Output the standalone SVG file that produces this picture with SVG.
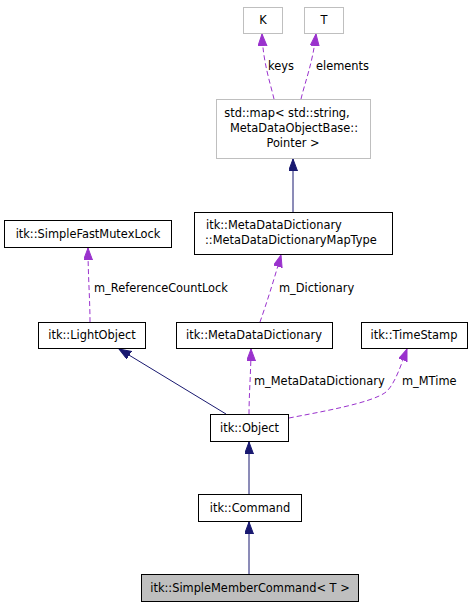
<svg xmlns="http://www.w3.org/2000/svg" width="473" height="608" viewBox="0 0 473 608">
<style>
text{font-family:"DejaVu Sans","Liberation Sans",sans-serif;font-size:11.4px;fill:#000}
.c{text-anchor:middle}
.box{fill:#fff;stroke:#000;stroke-width:1}
.gbox{fill:#fff;stroke:#bfbfbf;stroke-width:1}
.cur{fill:#bfbfbf;stroke:#000;stroke-width:1}
.inh{fill:none;stroke:#191970;stroke-width:1}
.use{fill:none;stroke:#9a32cd;stroke-width:1;stroke-dasharray:5,3}
</style>
<defs>
<marker id="an" markerUnits="userSpaceOnUse" markerWidth="13" markerHeight="11" refX="12" refY="4.5" orient="auto"><path d="M0,0 L12,4.5 L0,9 z" fill="#191970" stroke="#191970"/></marker>
<marker id="ap" markerUnits="userSpaceOnUse" markerWidth="13" markerHeight="11" refX="12" refY="4.5" orient="auto"><path d="M0,0 L12,4.5 L0,9 z" fill="#9a32cd" stroke="#9a32cd"/></marker>
</defs>
<rect width="473" height="608" fill="#fff"/>
<g id="edges">
<path class="use" d="M274,99 C270,82 263,62 262,34" marker-end="url(#ap)"/>
<text x="268" y="70">keys</text>
<path class="use" d="M301,99 C305,82 313,62 316,34" marker-end="url(#ap)"/>
<text x="316" y="70">elements</text>
<path class="inh" d="M293,212 L293,159" marker-end="url(#an)"/>
<path class="use" d="M260,322 C266,305 274,280 281,255" marker-end="url(#ap)"/>
<text x="279" y="292">m_Dictionary</text>
<path class="use" d="M90,322 C90,300 88,275 88,248" marker-end="url(#ap)"/>
<text x="94" y="292">m_ReferenceCountLock</text>
<path class="inh" d="M226,414 L119,349" marker-end="url(#an)"/>
<path class="use" d="M249,414 C249,395 251,370 251,349" marker-end="url(#ap)"/>
<text x="254" y="385">m_MetaDataDictionary</text>
<path class="use" d="M289,418 C320,412 372,403 386,392 C395,384 401,365 407,349" marker-end="url(#ap)"/>
<text x="402" y="385">m_MTime</text>
<path class="inh" d="M249,494 L249,442" marker-end="url(#an)"/>
<path class="inh" d="M249,574 L249,522" marker-end="url(#an)"/>
</g>
<g id="K"><rect class="gbox" x="243.5" y="7.5" width="39" height="26"/><text class="c" x="263" y="24">K</text></g>
<g id="T"><rect class="gbox" x="304.5" y="7.5" width="39" height="26"/><text class="c" x="324" y="24">T</text></g>
<g id="stdmap"><rect class="gbox" x="216.5" y="99.5" width="154" height="59"/>
<text class="c" x="287" y="117">std::map&lt; std::string,</text>
<text class="c" x="294" y="132">MetaDataObjectBase::</text>
<text class="c" x="293" y="147">Pointer &gt;</text></g>
<g id="MapType"><rect class="box" x="194.5" y="212.5" width="198" height="42"/>
<text x="206" y="229">itk::MetaDataDictionary</text>
<text x="205" y="244">::MetaDataDictionaryMapType</text></g>
<g id="SimpleFastMutexLock"><rect class="box" x="4.5" y="220.5" width="167" height="27"/><text class="c" x="88" y="238">itk::SimpleFastMutexLock</text></g>
<g id="LightObject"><rect class="box" x="38.5" y="322.5" width="107" height="26"/><text class="c" x="92" y="339">itk::LightObject</text></g>
<g id="MetaDataDictionary"><rect class="box" x="176.5" y="322.5" width="156" height="26"/><text class="c" x="254" y="339">itk::MetaDataDictionary</text></g>
<g id="TimeStamp"><rect class="box" x="361.5" y="322.5" width="106" height="26"/><text class="c" x="414" y="339">itk::TimeStamp</text></g>
<g id="Object"><rect class="box" x="210.5" y="414.5" width="78" height="27"/><text class="c" x="249.5" y="432">itk::Object</text></g>
<g id="Command"><rect class="box" x="198.5" y="494.5" width="103" height="27"/><text class="c" x="250" y="512">itk::Command</text></g>
<g id="SimpleMemberCommand"><rect class="cur" x="141.5" y="574.5" width="217" height="27"/><text class="c" x="250" y="592">itk::SimpleMemberCommand&lt; T &gt;</text></g>
</svg>
